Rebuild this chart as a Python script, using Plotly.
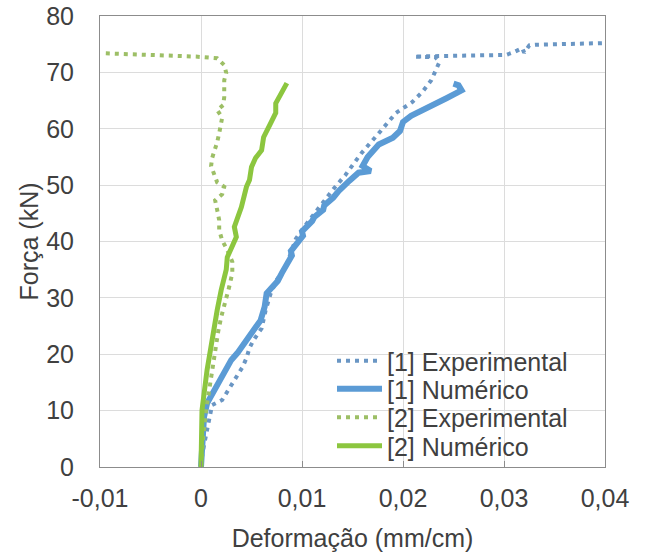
import plotly.graph_objects as go

# ---------------- data ----------------
exp1_x = [0.0001, 0.0001, 0.0003, 0.0005, 0.0006, 0.0008, 0.0011, 0.0021, 0.0026, 0.0031,
          0.0036, 0.0041, 0.0045, 0.0048, 0.0052, 0.0057, 0.0060, 0.0064, 0.0069, 0.0075,
          0.0084, 0.0089, 0.0094, 0.0103, 0.0113, 0.0122, 0.0132, 0.0143, 0.0152, 0.0159,
          0.0176, 0.0193, 0.0209, 0.0219, 0.0228, 0.0233, 0.0236, 0.0232, 0.0211, 0.0240,
          0.0302, 0.0310, 0.0318, 0.0320, 0.0325, 0.0332, 0.0400]
exp1_y = [0.0, 1.8, 3.9, 5.7, 7.4, 9.2, 11.0, 11.9, 13.3, 14.9,
          16.3, 17.7, 19.3, 21.1, 22.5, 23.7, 24.6, 27.8, 30.8, 33.2,
          35.5, 38.0, 40.5, 42.8, 45.0, 47.2, 49.5, 51.8, 54.0, 55.7,
          59.2, 62.8, 64.7, 66.5, 68.6, 70.4, 71.8, 72.7, 72.8, 72.9,
          73.1, 73.6, 74.3, 73.5, 74.8, 74.9, 75.2]

num1_x = [0.0, 0.0001, 0.0003, 0.0006, 0.0013, 0.0020, 0.0030, 0.0036, 0.0040, 0.0045,
          0.0050, 0.0055, 0.0059, 0.0062, 0.0063, 0.0065, 0.0072, 0.0076, 0.0080, 0.0087,
          0.0090, 0.0089, 0.0094, 0.0097, 0.0101, 0.0100, 0.0106, 0.0110, 0.0112, 0.0117,
          0.0121, 0.0122, 0.0128, 0.0131, 0.0137, 0.0142, 0.0147, 0.0156, 0.0168, 0.0160,
          0.0165, 0.0176, 0.0190, 0.0197, 0.0200, 0.0208, 0.0226, 0.0243, 0.0258, 0.0255,
          0.0250]
num1_y = [0.0, 3.0, 8.9, 11.3, 13.7, 16.0, 19.0, 20.2, 21.3, 22.4,
          23.8, 25.0, 26.0, 27.3, 28.4, 30.8, 32.0, 33.0, 34.4, 36.4,
          37.5, 38.3, 39.4, 40.2, 41.0, 41.8, 42.7, 43.6, 44.3, 45.0,
          45.6, 46.4, 47.2, 47.8, 49.1, 49.8, 50.8, 52.2, 52.5, 53.4,
          55.0, 57.2, 58.4, 59.6, 61.2, 62.3, 63.8, 65.4, 66.8, 67.7,
          68.0]

exp2_x = [0.0, 0.0002, 0.0005, 0.0009, 0.0013, 0.0017, 0.0020, 0.0025, 0.0028, 0.0031,
          0.0031, 0.0026, 0.0021, 0.0018, 0.0018, 0.0016, 0.0014, 0.0021, 0.0023, 0.0016,
          0.0013, 0.0010, 0.0011, 0.0014, 0.0016, 0.0018, 0.0020, 0.0021, 0.0016, 0.0022,
          0.0023, 0.0023, 0.0023, 0.0025, 0.0023, 0.0016, 0.0005, -0.0005, -0.0098]
exp2_y = [0.0, 5.0, 10.0, 15.0, 20.0, 24.0, 26.6, 29.6, 32.0, 34.4,
          36.4, 38.5, 40.2, 42.0, 43.8, 45.6, 47.3, 48.4, 49.7, 50.5,
          52.1, 53.4, 54.8, 56.4, 57.6, 59.2, 60.6, 62.0, 63.3, 64.2,
          65.6, 67.2, 68.6, 69.9, 71.3, 72.5, 72.7, 72.8, 73.4]

num2_x = [0.0, 0.0001, 0.0001, 0.0006, 0.0011, 0.0016, 0.0020, 0.0025, 0.0026, 0.0030,
          0.0035, 0.0033, 0.0040, 0.0045, 0.0048, 0.0050, 0.0054, 0.0060, 0.0062, 0.0069,
          0.0074, 0.0074, 0.0080, 0.0085]
num2_y = [0.0, 5.0, 10.1, 17.2, 23.0, 27.8, 31.4, 35.0, 37.2, 39.0,
          40.8, 42.6, 46.1, 49.7, 50.9, 53.2, 54.8, 56.2, 58.5, 61.0,
          62.8, 64.5, 66.3, 68.1]

series_names = ["[1] Experimental", "[1] Numérico", "[2] Experimental", "[2] Numérico"]

x_tick_vals = [-0.01, 0.0, 0.01, 0.02, 0.03, 0.04]
x_tick_text = ["-0,01", "0", "0,01", "0,02", "0,03", "0,04"]
y_tick_vals = [0, 10, 20, 30, 40, 50, 60, 70, 80]
y_tick_text = ["0", "10", "20", "30", "40", "50", "60", "70", "80"]

x_title = "Deformação (mm/cm)"
y_title = "Força (kN)"

# ---------------- style ----------------
BLUE = "#5B9BD5"
BLUE_DOT = "#6A96C4"
GREEN = "#8CC63F"
GREEN_DOT = "#9DBF66"
TXT = "#404040"
AX = "#8C8C8C"
GRID = "#DCDCDC"
FONT = "Liberation Sans, Arial, sans-serif"
FS = 25

fig = go.Figure()
fig.add_trace(go.Scatter(x=exp1_x, y=exp1_y, mode="lines", name=series_names[0],
                         line=dict(color=BLUE_DOT, width=4, dash="4px,5px"), legend="legend"))
fig.add_trace(go.Scatter(x=num1_x, y=num1_y, mode="lines", name=series_names[1],
                         line=dict(color=BLUE, width=6), legend="legend2"))
fig.add_trace(go.Scatter(x=exp2_x, y=exp2_y, mode="lines", name=series_names[2],
                         line=dict(color=GREEN_DOT, width=4, dash="4px,5px"), legend="legend3"))
fig.add_trace(go.Scatter(x=num2_x, y=num2_y, mode="lines", name=series_names[3],
                         line=dict(color=GREEN, width=5), legend="legend4"))

W, H = 651, 554
ML, MR, MT, MB = 100, 46, 16, 87
plot_w = W - ML - MR
plot_h = H - MT - MB
PL, PB = ML, H - MB   # plot left / bottom in pixels

def leg(top_px):
    return dict(x=(387 - 55 - PL) / plot_w, y=(PB - top_px) / plot_h,
                xanchor="left", yanchor="top", itemwidth=45,
                bgcolor="rgba(0,0,0,0)", borderwidth=0,
                font=dict(family=FONT, size=FS, color=TXT))

fig.update_layout(
    width=W, height=H,
    margin=dict(l=ML, r=MR, t=MT, b=MB, autoexpand=False),
    paper_bgcolor="white", plot_bgcolor="white",
    font=dict(family=FONT, size=FS, color=TXT),
    showlegend=True,
    legend=leg(338), legend2=leg(366), legend3=leg(394.5), legend4=leg(423),
    xaxis=dict(
        range=[-0.01, 0.04], tickvals=x_tick_vals, ticktext=x_tick_text,
        showgrid=True, gridcolor=GRID, gridwidth=1, zeroline=False,
        showline=True, linecolor=AX, linewidth=1, mirror=True,
        ticks="inside", ticklen=6, tickcolor=AX, ticklabelstandoff=9,
        tickfont=dict(family=FONT, size=FS, color=TXT),
        title=dict(text=x_title, font=dict(family=FONT, size=FS, color=TXT), standoff=18),
        automargin=False,
    ),
    yaxis=dict(
        range=[0, 80], tickvals=y_tick_vals, ticktext=y_tick_text,
        showgrid=True, gridcolor=GRID, gridwidth=1, zeroline=False,
        showline=True, linecolor=AX, linewidth=1, mirror=True,
        ticks="", ticklabelstandoff=20, ticklabeloverflow="allow",
        tickfont=dict(family=FONT, size=FS, color=TXT),
        title=dict(text=y_title, font=dict(family=FONT, size=FS, color=TXT), standoff=0),
        automargin=False,
    ),
    yaxis2=dict(overlaying="y", anchor="free", position=0.2, side="left",
                range=[0, 80], tickvals=y_tick_vals, showticklabels=False,
                ticks="inside", ticklen=8, tickcolor=AX, tickwidth=1,
                showgrid=False, showline=False, zeroline=False),
)

fig.write_html("out.html", config={"displayModeBar": False},
               post_script="document.body.style.margin='0';")
